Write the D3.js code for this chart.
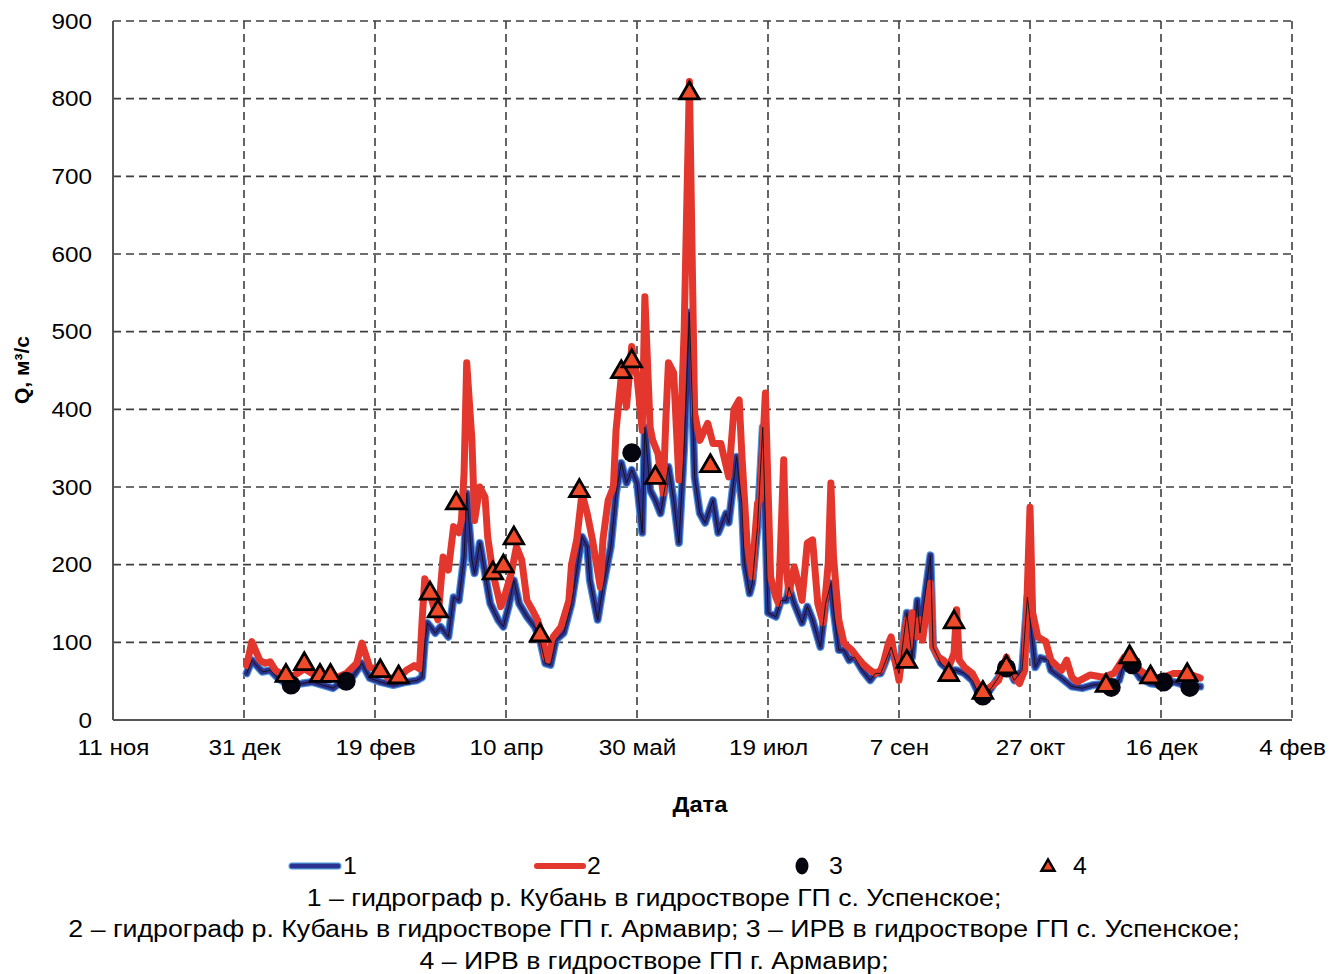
<!DOCTYPE html>
<html><head><meta charset="utf-8">
<script src="https://cdn.jsdelivr.net/npm/d3@7"></script>
<style>
body{margin:0;background:#fff;}
svg{display:block;font-family:"Liberation Sans",Arial,Helvetica,sans-serif;}
text.sm,text.se,text.ss,text.cap{transform-box:fill-box;}
text.sm{transform:scaleX(1.08);transform-origin:center center;}
text.se{transform:scaleX(1.08);transform-origin:right center;}
text.ss{transform:scaleX(1.08);transform-origin:left center;}
text.cap{transform:scaleX(1.09);transform-origin:center center;}
</style>
</head><body>
<svg id="chart" width="1339" height="974"></svg>
<script>
// ---------- DATA ----------
const xTickDates = ["2018-11-11","2018-12-31","2019-02-19","2019-04-10","2019-05-30","2019-07-19","2019-09-07","2019-10-27","2019-12-16","2020-02-04"];
const xTickLabels = ["11 ноя","31 дек","19 фев","10 апр","30 май","19 июл","7 сен","27 окт","16 дек","4 фев"];
const yTicks = [0,100,200,300,400,500,600,700,800,900];

// 1 – гидрограф р. Кубань, ГП с. Успенское
const uspenskoe = [["2019-01-01",60],["2019-01-03",77],["2019-01-07",62],["2019-01-10",64],["2019-01-13",54],["2019-01-17",45],["2019-01-22",47],["2019-01-26",49],["2019-02-03",41],["2019-02-07",51],["2019-02-11",58],["2019-02-14",73],["2019-02-17",54],["2019-02-21",49],["2019-02-26",45],["2019-03-03",49],["2019-03-07",51],["2019-03-09",55],["2019-03-10",100],["2019-03-11",125],["2019-03-14",112],["2019-03-16",120],["2019-03-19",107],["2019-03-21",158],["2019-03-23",154],["2019-03-25",210],["2019-03-26",292],["2019-03-28",206],["2019-03-29",189],["2019-03-31",228],["2019-04-02",189],["2019-04-04",150],["2019-04-07",129],["2019-04-09",120],["2019-04-11",146],["2019-04-13",180],["2019-04-15",150],["2019-04-18",133],["2019-04-21",120],["2019-04-23",103],["2019-04-25",73],["2019-04-27",71],["2019-04-29",103],["2019-05-02",112],["2019-05-05",150],["2019-05-09",236],["2019-05-11",223],["2019-05-12",180],["2019-05-15",129],["2019-05-17",171],["2019-05-20",223],["2019-05-22",292],["2019-05-24",331],["2019-05-26",305],["2019-05-28",322],["2019-05-30",305],["2019-06-01",241],["2019-06-02",377],["2019-06-04",296],["2019-06-06",283],["2019-06-08",266],["2019-06-11",326],["2019-06-13",283],["2019-06-15",228],["2019-06-17",351],["2019-06-19",525],["2019-06-21",313],["2019-06-23",266],["2019-06-25",254],["2019-06-28",283],["2019-06-30",241],["2019-07-03",266],["2019-07-04",254],["2019-07-07",339],["2019-07-09",279],["2019-07-10",202],["2019-07-12",163],["2019-07-13",176],["2019-07-15",249],["2019-07-17",377],["2019-07-18",257],["2019-07-19",138],["2019-07-22",133],["2019-07-24",154],["2019-07-26",154],["2019-07-27",171],["2019-07-29",150],["2019-08-01",125],["2019-08-03",146],["2019-08-05",129],["2019-08-08",94],["2019-08-10",150],["2019-08-12",176],["2019-08-13",142],["2019-08-15",90],["2019-08-17",90],["2019-08-19",77],["2019-08-21",81],["2019-08-24",64],["2019-08-27",51],["2019-08-29",60],["2019-08-31",60],["2019-09-01",68],["2019-09-04",94],["2019-09-07",60],["2019-09-10",138],["2019-09-12",81],["2019-09-14",154],["2019-09-15",112],["2019-09-19",212],["2019-09-20",94],["2019-09-23",73],["2019-09-26",64],["2019-09-29",64],["2019-10-02",60],["2019-10-05",51],["2019-10-08",30],["2019-10-11",35],["2019-10-15",55],["2019-10-18",73],["2019-10-21",51],["2019-10-24",64],["2019-10-26",158],["2019-10-27",129],["2019-10-29",68],["2019-10-31",80],["2019-11-03",77],["2019-11-04",64],["2019-11-08",54],["2019-11-12",43],["2019-11-16",41],["2019-11-20",45],["2019-11-26",47],["2019-11-30",51],["2019-12-02",75],["2019-12-06",64],["2019-12-08",54],["2019-12-12",47],["2019-12-17",45],["2019-12-21",49],["2019-12-25",45],["2019-12-31",43]];

// 2 – гидрограф р. Кубань, ГП г. Армавир
const armavir = [["2019-01-01",70],["2019-01-03",101],["2019-01-06",77],["2019-01-08",73],["2019-01-10",75],["2019-01-12",64],["2019-01-15",58],["2019-01-19",57],["2019-01-23",66],["2019-01-26",60],["2019-01-30",56],["2019-02-04",54],["2019-02-08",60],["2019-02-12",73],["2019-02-14",99],["2019-02-17",68],["2019-02-21",64],["2019-02-24",54],["2019-02-28",54],["2019-03-03",64],["2019-03-06",70],["2019-03-08",66],["2019-03-09",129],["2019-03-10",182],["2019-03-12",163],["2019-03-14",138],["2019-03-15",129],["2019-03-17",210],["2019-03-19",193],["2019-03-21",249],["2019-03-23",241],["2019-03-24",257],["2019-03-25",318],["2019-03-26",460],["2019-03-28",360],["2019-03-29",257],["2019-03-31",300],["2019-04-02",287],["2019-04-03",236],["2019-04-05",189],["2019-04-08",146],["2019-04-09",154],["2019-04-12",189],["2019-04-14",223],["2019-04-16",206],["2019-04-18",154],["2019-04-20",142],["2019-04-22",129],["2019-04-24",107],["2019-04-25",81],["2019-04-26",77],["2019-04-28",107],["2019-05-01",120],["2019-05-04",154],["2019-05-05",200],["2019-05-07",232],["2019-05-09",292],["2019-05-11",266],["2019-05-13",232],["2019-05-16",171],["2019-05-17",232],["2019-05-19",283],["2019-05-21",300],["2019-05-22",373],["2019-05-24",442],["2019-05-26",403],["2019-05-28",481],["2019-05-30",442],["2019-06-01",373],["2019-06-02",545],["2019-06-04",377],["2019-06-05",360],["2019-06-07",343],["2019-06-09",292],["2019-06-10",386],["2019-06-11",460],["2019-06-13",447],["2019-06-15",309],["2019-06-17",502],["2019-06-19",822],["2019-06-21",395],["2019-06-23",360],["2019-06-26",382],["2019-06-28",356],["2019-07-01",356],["2019-07-04",313],["2019-07-06",400],["2019-07-08",412],["2019-07-09",343],["2019-07-11",228],["2019-07-13",184],["2019-07-14",236],["2019-07-15",279],["2019-07-16",283],["2019-07-18",421],["2019-07-19",300],["2019-07-20",184],["2019-07-22",158],["2019-07-23",150],["2019-07-25",335],["2019-07-26",193],["2019-07-27",163],["2019-07-29",197],["2019-07-30",184],["2019-08-01",154],["2019-08-03",228],["2019-08-05",232],["2019-08-07",150],["2019-08-09",125],["2019-08-11",202],["2019-08-12",305],["2019-08-13",210],["2019-08-15",129],["2019-08-17",99],["2019-08-20",90],["2019-08-22",81],["2019-08-24",73],["2019-08-27",64],["2019-08-29",60],["2019-08-31",64],["2019-09-01",73],["2019-09-03",99],["2019-09-04",107],["2019-09-06",68],["2019-09-07",51],["2019-09-09",107],["2019-09-10",129],["2019-09-11",94],["2019-09-12",138],["2019-09-14",107],["2019-09-15",129],["2019-09-16",103],["2019-09-19",176],["2019-09-20",94],["2019-09-22",81],["2019-09-24",77],["2019-09-26",68],["2019-09-28",86],["2019-09-29",142],["2019-09-30",77],["2019-10-02",68],["2019-10-05",60],["2019-10-07",47],["2019-10-09",35],["2019-10-12",43],["2019-10-15",51],["2019-10-18",81],["2019-10-21",55],["2019-10-23",47],["2019-10-25",64],["2019-10-26",171],["2019-10-27",274],["2019-10-28",138],["2019-10-30",107],["2019-11-02",101],["2019-11-04",77],["2019-11-08",64],["2019-11-10",77],["2019-11-12",55],["2019-11-14",49],["2019-11-19",58],["2019-11-24",55],["2019-11-28",60],["2019-12-02",81],["2019-12-05",80],["2019-12-08",64],["2019-12-12",55],["2019-12-16",54],["2019-12-21",60],["2019-12-26",60],["2019-12-31",54]];

// 3 – ИРВ, ГП с. Успенское
const irvUspenskoe = [["2019-01-18",45],["2019-02-08",50],["2019-05-28",344],["2019-10-09",31],["2019-10-18",67],["2019-11-27",42],["2019-12-05",71],["2019-12-17",49],["2019-12-27",42]];
// 4 – ИРВ, ГП г. Армавир
const irvArmavir = [["2019-01-16",57],["2019-01-23",72],["2019-01-29",57],["2019-02-02",57],["2019-02-21",63],["2019-02-28",55],["2019-03-12",163],["2019-03-15",140],["2019-03-22",279],["2019-04-05",189],["2019-04-09",198],["2019-04-13",234],["2019-04-23",109],["2019-05-08",295],["2019-05-24",448],["2019-05-28",462],["2019-06-06",312],["2019-06-19",807],["2019-06-27",327],["2019-09-10",75],["2019-09-26",58],["2019-09-28",126],["2019-10-09",35],["2019-10-18",68],["2019-11-25",44],["2019-12-04",81],["2019-12-12",55],["2019-12-26",58]];

const legendLabels = ["1","2","3","4"];
const captionLines = [
  "1 – гидрограф р. Кубань в гидростворе ГП с. Успенское;",
  "2 – гидрограф р. Кубань в гидростворе ГП г. Армавир; 3 – ИРВ в гидростворе ГП с. Успенское;",
  "4 – ИРВ в гидростворе ГП г. Армавир;"
];
const yTitle = "Q, м³/с";
const xTitle = "Дата";

// ---------- DRAW ----------
const parse = d3.timeParse("%Y-%m-%d");
const svg = d3.select("#chart");
const L = 113, R = 1292, T = 21, B = 720;
const x = d3.scaleTime().domain([parse(xTickDates[0]), parse(xTickDates[xTickDates.length-1])]).range([L, R]);
const y = d3.scaleLinear().domain([0, 900]).range([B, T]);

const gridColor = "#3f3f3f";
const g = svg.append("g");
g.selectAll(".hg").data(yTicks.filter(v => v > 0)).join("line")
  .attr("x1", L).attr("x2", R).attr("y1", d => y(d)).attr("y2", d => y(d))
  .attr("stroke", gridColor).attr("stroke-width", 1.6).attr("stroke-dasharray", "8,5");
g.selectAll(".vg").data(xTickDates.slice(1)).join("line")
  .attr("x1", d => x(parse(d))).attr("x2", d => x(parse(d))).attr("y1", T).attr("y2", B)
  .attr("stroke", gridColor).attr("stroke-width", 1.6).attr("stroke-dasharray", "8,5");
g.append("line").attr("x1", L).attr("x2", L).attr("y1", T).attr("y2", B).attr("stroke", "#555").attr("stroke-width", 2);
g.append("line").attr("x1", L).attr("x2", R).attr("y1", B).attr("y2", B).attr("stroke", "#555").attr("stroke-width", 2);

const yAxis = d3.axisLeft(y).tickValues(yTicks).tickSize(0).tickPadding(21);
svg.append("g").attr("transform", `translate(${L},0)`).call(yAxis)
  .call(s => s.select(".domain").remove())
  .selectAll("text").attr("class", "se").attr("font-size", 22.5).attr("fill", "#000")
  .attr("font-family", "Liberation Sans, Arial, sans-serif");
const xAxis = d3.axisBottom(x).tickValues(xTickDates.map(parse)).tickSize(0).tickPadding(19)
  .tickFormat((d, i) => xTickLabels[i]);
svg.append("g").attr("transform", `translate(0,${B})`).call(xAxis)
  .call(s => s.select(".domain").remove())
  .selectAll("text").attr("class", "sm").attr("font-size", 22.5).attr("fill", "#000")
  .attr("font-family", "Liberation Sans, Arial, sans-serif");

svg.append("text").attr("class", "sm").attr("x", 700).attr("y", 812).attr("text-anchor", "middle")
  .attr("font-size", 22).attr("font-weight", "bold").text(xTitle);
svg.append("text").attr("transform", "translate(29,370) rotate(-90)").attr("text-anchor", "middle")
  .attr("font-size", 21).attr("font-weight", "bold").text(yTitle);

const line = d3.line().x(d => x(parse(d[0]))).y(d => y(d[1]));
const lg = svg.append("g").attr("fill", "none").attr("stroke-linejoin", "round").attr("stroke-linecap", "round");
lg.append("path").attr("d", line(uspenskoe)).attr("stroke", "#4b93d8").attr("stroke-width", 8);
lg.append("path").attr("d", line(uspenskoe)).attr("stroke", "#2c3290").attr("stroke-width", 5.6);
lg.append("path").attr("d", line(armavir)).attr("stroke", "#e3362c").attr("stroke-width", 7);
lg.append("path").attr("d", line(uspenskoe)).attr("stroke", "#111").attr("stroke-width", 0.9);

svg.append("g").selectAll("circle").data(irvUspenskoe).join("circle")
  .attr("cx", d => x(parse(d[0]))).attr("cy", d => y(d[1])).attr("r", 9.5)
  .attr("fill", "#050510");
const tri = d3.symbol().type(d3.symbolTriangle).size(165);
svg.append("g").selectAll("path").data(irvArmavir).join("path")
  .attr("d", tri).attr("transform", d => `translate(${x(parse(d[0]))},${y(d[1])})`)
  .attr("fill", "#ef4a2a").attr("stroke", "#000").attr("stroke-width", 2.8).attr("stroke-linejoin", "miter");

const ly = 866;
const leg = svg.append("g");
leg.append("line").attr("x1", 292).attr("x2", 338).attr("y1", ly).attr("y2", ly)
  .attr("stroke", "#4b93d8").attr("stroke-width", 7).attr("stroke-linecap", "round");
leg.append("line").attr("x1", 292).attr("x2", 338).attr("y1", ly).attr("y2", ly)
  .attr("stroke", "#2c3290").attr("stroke-width", 4.6).attr("stroke-linecap", "round");
leg.append("line").attr("x1", 537).attr("x2", 583).attr("y1", ly).attr("y2", ly)
  .attr("stroke", "#e3362c").attr("stroke-width", 6).attr("stroke-linecap", "round");
leg.append("ellipse").attr("cx", 802).attr("cy", ly).attr("rx", 6.5).attr("ry", 8.5).attr("fill", "#050510");
leg.append("path").attr("d", d3.symbol().type(d3.symbolTriangle).size(75))
  .attr("transform", `translate(1048,${ly+1})`).attr("fill", "#ef4a2a").attr("stroke", "#000").attr("stroke-width", 2.4);
const legX = [343, 587, 829, 1073];
leg.selectAll("text").data(legendLabels).join("text").attr("class", "ss")
  .attr("x", (d, i) => legX[i]).attr("y", ly + 8).attr("font-size", 23).text(d => d);

svg.append("g").selectAll("text").data(captionLines).join("text").attr("class", "cap")
  .attr("x", 654).attr("y", (d, i) => 906 + i * 31.5).attr("text-anchor", "middle")
  .attr("font-size", 24.5).text(d => d);
</script>
</body></html>
